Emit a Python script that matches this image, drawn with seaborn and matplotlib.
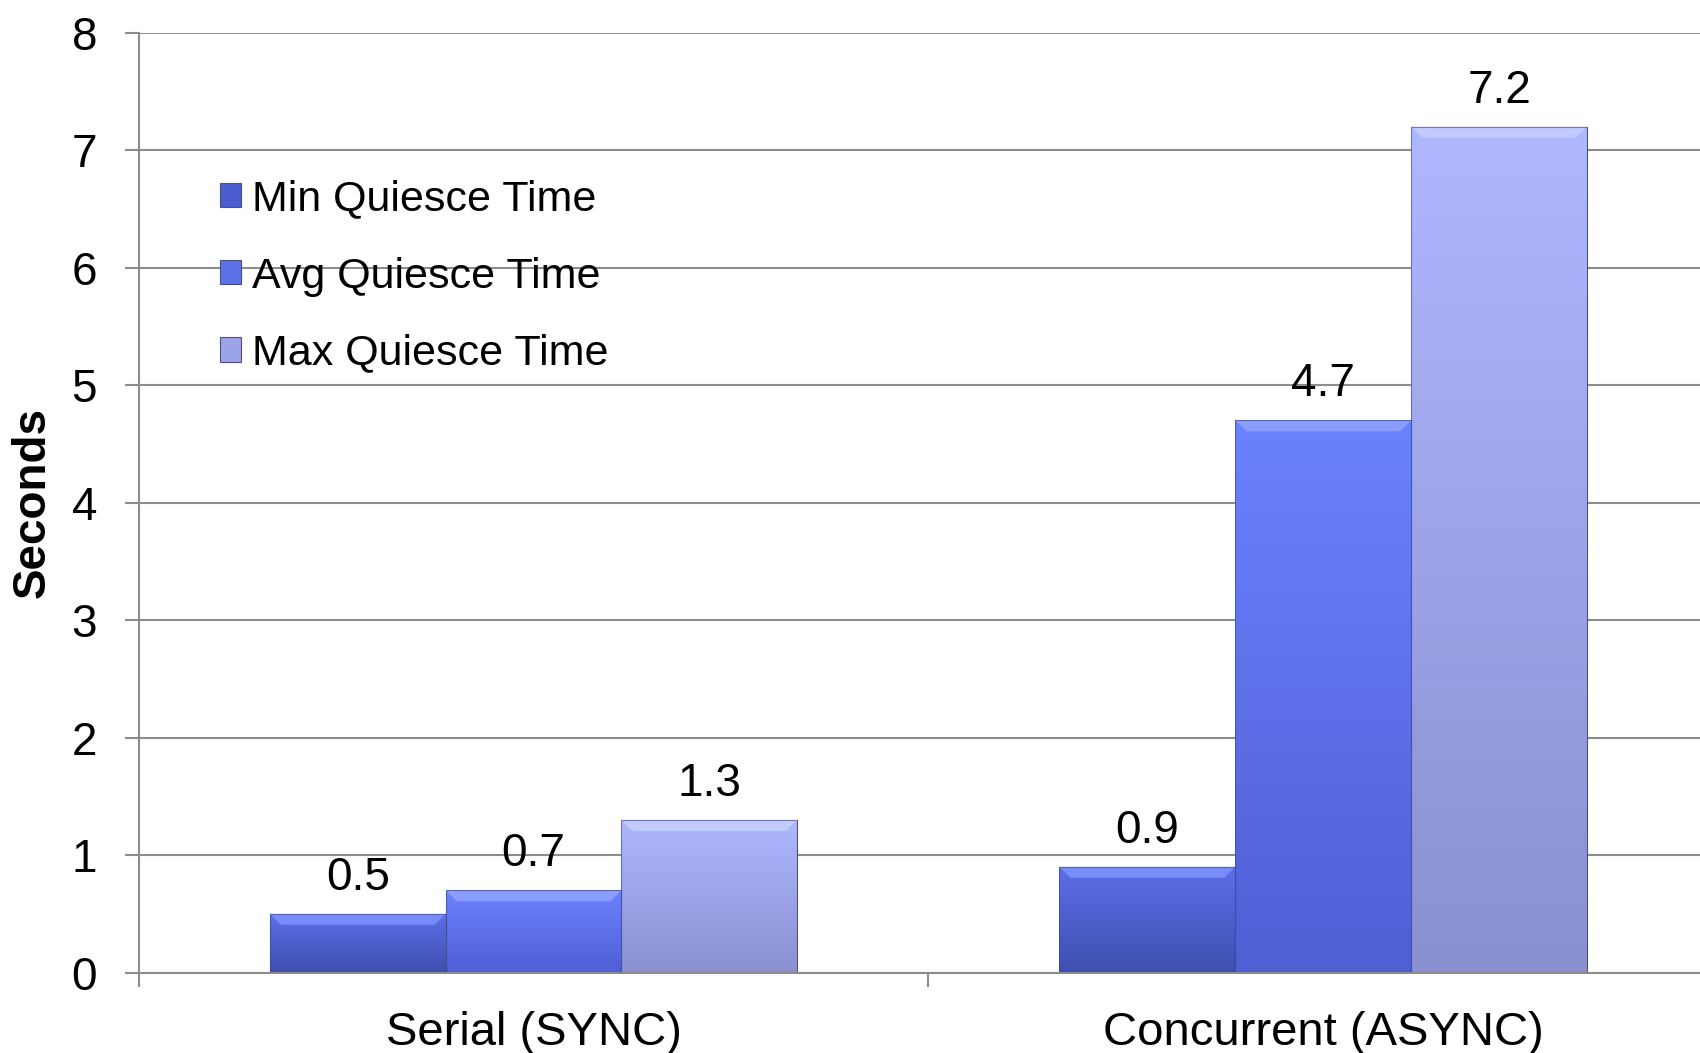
import numpy as np
import pandas as pd
import matplotlib
matplotlib.use("Agg")
import matplotlib.pyplot as plt
from matplotlib.colors import LinearSegmentedColormap
from matplotlib.patches import Polygon
import seaborn as sns

# ---- data ----
categories = ["Serial (SYNC)", "Concurrent (ASYNC)"]
series = ["Min Quiesce Time", "Avg Quiesce Time", "Max Quiesce Time"]
min_vals = [0.5, 0.9]
avg_vals = [0.7, 4.7]
max_vals = [1.3, 7.2]
y_ticks = [0, 1, 2, 3, 4, 5, 6, 7, 8]

# ---- styling ----
top_colors = ["#5b6fe8", "#6b82ff", "#aeb8ff"]
bottom_colors = ["#3f4fae", "#4f5fd4", "#8a90d0"]
mid_colors = ["#4b5ed0", "#5c70ea", "#9ca4e8"]
bevel_colors = ["#7d93ff", "#8ea3ff", "#c6ceff"]
grid_gray = "#8c8c8c"

sns.set_theme(style="white")
plt.rcParams["font.family"] = ["Liberation Sans", "DejaVu Sans"]
plt.rcParams["text.color"] = "black"
plt.rcParams["axes.labelcolor"] = "black"
plt.rcParams["xtick.labelcolor"] = "black"
plt.rcParams["ytick.labelcolor"] = "black"

df = pd.DataFrame({
    "category": np.repeat(categories, len(series)),
    "series": series * len(categories),
    "value": [v for trio in zip(min_vals, avg_vals, max_vals) for v in trio],
})

fig = plt.figure(figsize=(17, 10.53), dpi=100)
ax = fig.add_axes([0.0816, 0.0764, 0.929, 0.8927])

sns.barplot(data=df, x="category", y="value", hue="series",
            order=categories, hue_order=series, palette=mid_colors,
            width=0.668, gap=0, saturation=1, errorbar=None,
            edgecolor="#3a4590", linewidth=0.6, ax=ax)

ax.set_xlim(-0.5, 1.5)
ax.set_ylim(0, 8)

# gradient fill and bevel on each bar
px_x = 1579.7 / 2.0
px_y = 940.0 / 8.0
for i, container in enumerate(ax.containers):
    cmap = LinearSegmentedColormap.from_list(f"g{i}", [bottom_colors[i], top_colors[i]])
    grad = np.linspace(0, 1, 256).reshape(-1, 1)
    for patch in container.patches:
        x0, y0 = patch.get_x(), patch.get_y()
        w, h = patch.get_width(), patch.get_height()
        im = ax.imshow(grad, extent=[x0, x0 + w, y0, y0 + h], origin="lower",
                       aspect="auto", cmap=cmap, zorder=patch.get_zorder() + 0.1,
                       interpolation="bilinear")
        im.set_clip_path(patch)
        d = 11 / px_x
        hh = min(11 / px_y, h * 0.5)
        top = y0 + h
        bevel = Polygon([(x0, top), (x0 + w, top), (x0 + w - d, top - hh), (x0 + d, top - hh)],
                        closed=True, facecolor=bevel_colors[i], edgecolor="none",
                        alpha=0.85, zorder=patch.get_zorder() + 0.2)
        ax.add_patch(bevel)
        outline = plt.Rectangle((x0, y0), w, h, fill=False, edgecolor="#3d478f",
                                linewidth=0.8, alpha=0.6, zorder=patch.get_zorder() + 0.3)
        ax.add_patch(outline)

ax.set_xlim(-0.5, 1.5)
ax.set_ylim(0, 8)

# value labels
for container in ax.containers:
    ax.bar_label(container, labels=[f"{v:.1f}" for v in container.datavalues],
                 padding=10, fontsize=33, color="black", zorder=6)

# axes and grid
ax.set_axisbelow(True)
ax.yaxis.grid(True, color=grid_gray, linewidth=1.5)
ax.set_yticks(y_ticks)
ax.tick_params(axis="y", labelsize=33, length=10, width=1.5, color=grid_gray,
               direction="out", pad=20, left=True, labelcolor="black")
ax.set_xticks([0, 1])
ax.set_xticklabels(categories)
ax.set_xticks([-0.5, 0.5, 1.5], minor=True)
ax.tick_params(axis="x", which="major", length=0, labelsize=34, pad=28, labelcolor="black")
ax.tick_params(axis="x", which="minor", length=10, width=1.5, color=grid_gray,
               direction="out", bottom=True)
for side in ["top", "right"]:
    ax.spines[side].set_visible(False)
for side in ["left", "bottom"]:
    ax.spines[side].set_color(grid_gray)
    ax.spines[side].set_linewidth(1.5)

ax.set_xlabel("")
ax.set_ylabel("Seconds", fontsize=33, fontweight="bold", color="black")
ax.yaxis.set_label_coords(-0.053, 0.5)

# legend
handles, labels = ax.get_legend_handles_labels()
leg = ax.legend(handles, labels, loc="upper left", bbox_to_anchor=(0.0405, 0.862),
                frameon=False, fontsize=31, handlelength=0.5, handleheight=0.5,
                handletextpad=0.25, labelspacing=0.86, borderaxespad=0,
                labelcolor="black")
for hdl, c in zip(leg.legend_handles, mid_colors):
    hdl.set_facecolor(c)
    hdl.set_edgecolor("#4a4f80")
    hdl.set_linewidth(0.8)

fig.savefig("out.png", dpi=100, facecolor="white")
